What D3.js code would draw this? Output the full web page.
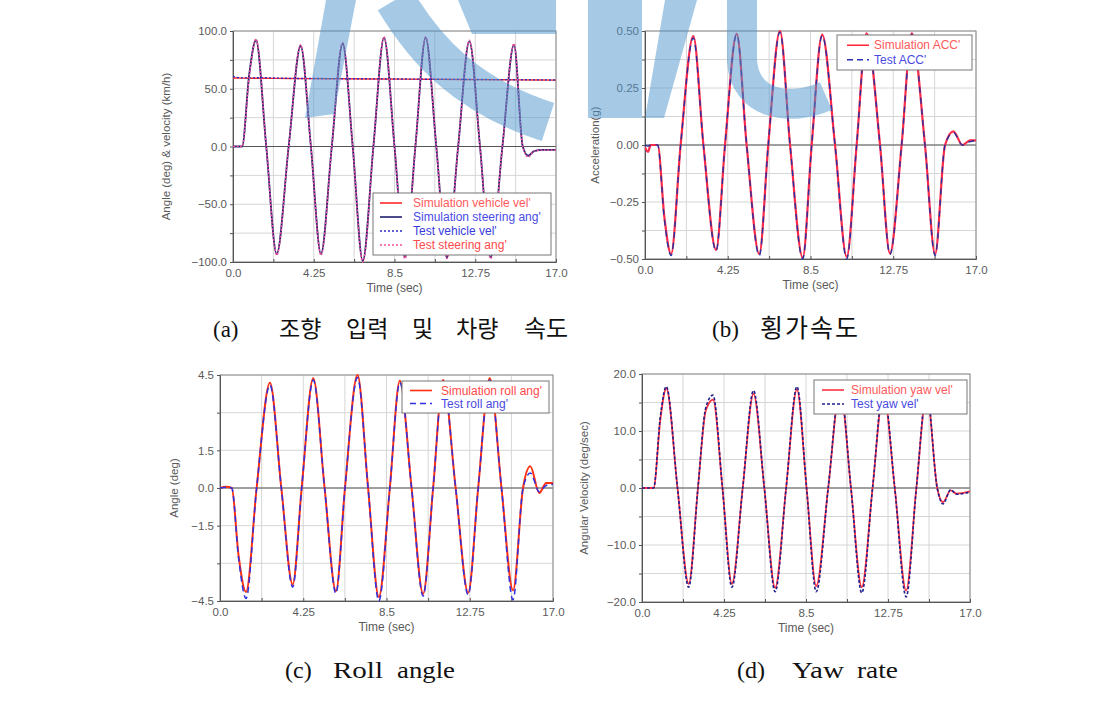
<!DOCTYPE html>
<html>
<head>
<meta charset="utf-8">
<title>Vehicle test vs simulation</title>
<script src="https://cdnjs.cloudflare.com/ajax/libs/d3/7.8.5/d3.min.js"></script>
<style>
  body { margin: 0; background: #fff; }
  svg text { font-family: "Liberation Sans", Arial, sans-serif; }
  .cap { font-family: "Liberation Serif", "Noto Sans CJK KR", serif; fill: #111; }
</style>
</head>
<body>
<div id="chart"></div>
<script>
// ---- data ----
var xTicks = [0, 4.25, 8.5, 12.75, 17];
var xTickLabels = ["0.0", "4.25", "8.5", "12.75", "17.0"];

// (a) steering angle & vehicle speed
var steerTime = [0, 0.48, 0.85, 1.21, 1.75, 2.3, 2.93, 3.56, 4.1, 4.63, 5.2, 5.77, 6.3, 6.83, 7.39, 7.95, 8.5, 9.05, 9.6, 10.14, 10.7, 11.26, 11.85, 12.44, 13.0, 13.56, 14.18, 14.79, 15.25, 15.54, 15.85, 16.3, 17];
var steerSim  = [0, 0, 62, 92, 0, -93, 0, 87, 0, -93, 0, 89, 0, -99, 0, 94, 0, -96, 0, 94, 0, -96, 0, 91, 0, -96, 0, 88, 0, -8, -4, -3, -3];
var steerTest = [0, 0, 60, 93, 0, -94, 0, 88, 0, -94, 0, 90, 0, -100, 0, 95, 0, -97, 0, 95, 0, -97, 0, 92, 0, -97, 0, 89, 0, -9, -4, -3, -3];
var velTime = [0, 0.5, 1.5, 3, 5, 7, 9, 11, 13, 15, 17];
var velSim  = [59.3, 59.2, 59.1, 58.9, 58.7, 58.5, 58.3, 58.1, 57.9, 57.7, 57.5];
var velTest = [60.5, 59.4, 59.5, 59.0, 58.8, 58.6, 58.4, 58.2, 58.0, 57.8, 57.6];
var yTicksA = [100, 50, 0, -50, -100];

// (b) lateral acceleration
var accTime = [0, 0.15, 0.3, 0.65, 1.0, 1.34, 1.83, 2.48, 3.0, 3.65, 4.11, 4.71, 5.22, 5.87, 6.33, 6.93, 7.45, 8.1, 8.56, 9.1, 9.76, 10.36, 10.87, 11.38, 12.07, 12.58, 13.18, 13.7, 14.38, 14.9, 15.41, 15.84, 16.3, 16.7, 17];
var accSim  = [-0.01, -0.03, 0, 0, -0.32, -0.478, 0, 0.478, 0, -0.46, 0, 0.488, 0, -0.478, 0, 0.5, 0, -0.493, 0, 0.484, 0, -0.49, 0, 0.49, 0, -0.475, 0, 0.49, 0, -0.478, 0, 0.06, 0.0, 0.02, 0.02];
var accTest = [0, -0.005, 0, 0, -0.33, -0.485, 0, 0.47, 0, -0.465, 0, 0.485, 0, -0.485, 0, 0.495, 0, -0.5, 0, 0.48, 0, -0.5, 0, 0.49, 0, -0.48, 0, 0.485, 0, -0.485, 0, 0.055, 0.0, 0.015, 0.02];
var yTicksB = [0.5, 0.25, 0, -0.25, -0.5];

// (c) roll angle
var rollTime = [0, 0.3, 0.6, 0.95, 1.33, 1.87, 2.55, 3.13, 3.71, 4.17, 4.76, 5.34, 5.92, 6.38, 7.02, 7.56, 8.11, 8.67, 9.18, 9.78, 10.37, 10.88, 11.39, 12.03, 12.67, 13.18, 13.77, 14.37, 14.96, 15.47, 15.84, 16.3, 16.65, 17];
var rollSim  = [0, 0.05, 0, -2.7, -4.14, 0, 4.19, 0, -3.84, 0, 4.37, 0, -4.1, 0, 4.5, 0, -4.34, 0, 4.27, 0, -4.21, 0, 4.3, 0, -4.17, 0, 4.37, 0, -4.08, 0, 0.87, -0.2, 0.2, 0.2];
var rollTest = [0, 0.03, 0, -2.8, -4.4, 0, 4.1, 0, -3.95, 0, 4.3, 0, -4.2, 0, 4.4, 0, -4.5, 0, 4.2, 0, -4.3, 0, 4.25, 0, -4.25, 0, 4.3, 0, -4.45, 0, 0.6, -0.15, 0.1, 0.15];
var yTicksC = [4.5, 1.5, 0, -1.5, -4.5];

// (d) yaw rate
var yawTime = [0, 0.6, 0.95, 1.26, 1.84, 2.42, 2.9, 3.3, 3.68, 4.17, 4.66, 5.22, 5.78, 6.34, 6.9, 7.47, 8.03, 8.53, 9.03, 9.65, 10.27, 10.83, 11.39, 11.95, 12.51, 13.1, 13.69, 14.22, 14.76, 15.3, 15.6, 16.0, 16.3, 17];
var yawSim  = [0, 0, 12, 17.5, 0, -16.8, 0, 13.5, 15.5, 0, -16.8, 0, 16.5, 0, -17.5, 0, 17.3, 0, -17.2, 0, 17.2, 0, -17.4, 0, 16.8, 0, -18, 0, 16.5, 0, -2.5, -0.4, -1.0, -0.6];
var yawTest = [0, 0, 12.5, 17.8, 0, -17.4, 0, 14, 16.3, 0, -17.4, 0, 17.1, 0, -18.2, 0, 17.8, 0, -18.2, 0, 17.6, 0, -18.4, 0, 17.2, 0, -19.1, 0, 16.8, 0, -2.8, -0.3, -1.1, -0.7];
var yTicksD = [20, 10, 0, -10, -20];

function zip(t, v) { return t.map(function(d, i) { return [d, v[i]]; }); }

var panels = [
  { box: [233, 556, 31, 262], y: [-100, 100], yStep: 25, yTicks: yTicksA, fmt: ".1f",
    ylabel: "Angle (deg) & velocity (km/h)", ylabelX: 170,
    series: [
      { d: zip(velTime, velSim), color: "#ff2a2a", dash: null, w: 1.4 },
      { d: zip(steerTime, steerSim), color: "#1e1e6e", dash: null, w: 1.8 },
      { d: zip(velTime, velTest), color: "#2a2ac8", dash: "2,2", w: 1.4 },
      { d: zip(steerTime, steerTest), color: "#f0509a", dash: "2,1.5", w: 1.5 }
    ],
    legend: { x: 373, y: 193, w: 178, h: 62, sx: 380, tx: 413, rows: [
      { label: "Simulation vehicle vel'", line: "#ff2a2a", text: "#ff5a5a", dash: null },
      { label: "Simulation steering ang'", line: "#1e1e6e", text: "#4a4ae6", dash: null },
      { label: "Test vehicle vel'", line: "#2a2ac8", text: "#3a3ae0", dash: "2,2" },
      { label: "Test steering ang'", line: "#f0509a", text: "#ff4a4a", dash: "2,2" }
    ] } },
  { box: [645, 976, 31, 259], y: [-0.5, 0.5], yStep: 0.125, yTicks: yTicksB, fmt: ".2f",
    ylabel: "Acceleration(g)", ylabelX: 599,
    series: [
      { d: zip(accTime, accSim), color: "#ff2a4a", dash: null, w: 2.2 },
      { d: zip(accTime, accTest), color: "#2a30a0", dash: "6,5", w: 1.4 }
    ],
    legend: { x: 837, y: 35, w: 135, h: 35, sx: 847, tx: 874, rows: [
      { label: "Simulation ACC'", line: "#ff2a3a", text: "#ff5a5a", dash: null },
      { label: "Test ACC'", line: "#2a30b0", text: "#4a4ae0", dash: "6,4" }
    ] } },
  { box: [220, 553, 375, 601], y: [-4.5, 4.5], yStep: 1.5, yTicks: yTicksC, fmt: ".1f",
    ylabel: "Angle (deg)", ylabelX: 178,
    series: [
      { d: zip(rollTime, rollSim), color: "#ff3010", dash: null, w: 2 },
      { d: zip(rollTime, rollTest), color: "#3030e0", dash: "6,4", w: 1.5 }
    ],
    legend: { x: 402, y: 381, w: 147, h: 32, sx: 410, tx: 441, rows: [
      { label: "Simulation roll ang'", line: "#ff3010", text: "#ff4a4a", dash: null },
      { label: "Test roll ang'", line: "#3030e0", text: "#4a4ae0", dash: "6,4" }
    ] } },
  { box: [642, 970, 374, 602], y: [-20, 20], yStep: 5, yTicks: yTicksD, fmt: ".1f",
    ylabel: "Angular Velocity (deg/sec)", ylabelX: 588,
    series: [
      { d: zip(yawTime, yawSim), color: "#ff3040", dash: null, w: 1.8 },
      { d: zip(yawTime, yawTest), color: "#20208c", dash: "3,2", w: 1.6 }
    ],
    legend: { x: 814, y: 380, w: 153, h: 34, sx: 822, tx: 851, rows: [
      { label: "Simulation yaw vel'", line: "#ff3040", text: "#ff5a5a", dash: null },
      { label: "Test yaw vel'", line: "#20208c", text: "#4a4ae0", dash: "3,2" }
    ] } }
];

var svg = d3.select("#chart").append("svg")
  .attr("width", 1105).attr("height", 722);

panels.forEach(function(p, idx) {
  var x0 = p.box[0], x1 = p.box[1], y0 = p.box[2], y1 = p.box[3];
  var x = d3.scaleLinear().domain([0, 17]).range([x0, x1]);
  var y = d3.scaleLinear().domain(p.y).range([y1, y0]);
  var g = svg.append("g");

  // grid
  var gx = d3.range(0, 17.001, 2.125);
  var gy = d3.range(p.y[0], p.y[1] + p.yStep / 2, p.yStep);
  g.selectAll(".gx").data(gx).enter().append("line")
    .attr("x1", function(d) { return x(d); }).attr("x2", function(d) { return x(d); })
    .attr("y1", y0).attr("y2", y1)
    .attr("stroke", "#d6d6d6").attr("stroke-width", 1);
  g.selectAll(".gy").data(gy).enter().append("line")
    .attr("y1", function(d) { return y(d); }).attr("y2", function(d) { return y(d); })
    .attr("x1", x0).attr("x2", x1)
    .attr("stroke", "#d6d6d6").attr("stroke-width", 1);
  // zero line
  g.append("line").attr("x1", x0).attr("x2", x1)
    .attr("y1", y(0)).attr("y2", y(0)).attr("stroke", "#555").attr("stroke-width", 1);

  // frame
  g.append("rect").attr("x", x0).attr("y", y0).attr("width", x1 - x0).attr("height", y1 - y0)
    .attr("fill", "none").attr("stroke", "#8a8a8a").attr("stroke-width", 1);

  // axes
  var xa = g.append("g").attr("transform", "translate(0," + y1 + ")")
    .call(d3.axisBottom(x).tickValues(gx).tickSize(-3)
      .tickFormat(function(d) { var i = xTicks.indexOf(d); return i >= 0 ? xTickLabels[i] : ""; }));
  var ya = g.append("g").attr("transform", "translate(" + x0 + ",0)")
    .call(d3.axisLeft(y).tickValues(gy).tickSize(3)
      .tickFormat(function(d) { return p.yTicks.some(function(t) { return Math.abs(t - d) < 1e-9; }) ? d3.format(p.fmt)(d) : ""; }));
  [xa, ya].forEach(function(a) {
    a.select(".domain").attr("stroke", "#555");
    a.selectAll(".tick line").attr("stroke", "#555");
    a.selectAll(".tick text").attr("fill", "#5a5a5a").attr("font-size", "11.5px")
      .attr("font-family", "Liberation Sans, Arial, sans-serif");
  });
  xa.selectAll(".tick text").attr("dy", "1.0em");

  g.append("text").attr("x", (x0 + x1) / 2).attr("y", y1 + 30)
    .attr("text-anchor", "middle").attr("font-size", "12px").attr("fill", "#5a5a5a")
    .text("Time (sec)");
  g.append("text").attr("transform", "translate(" + p.ylabelX + "," + ((y0 + y1) / 2) + ") rotate(-90)")
    .attr("text-anchor", "middle").attr("font-size", "11.5px").attr("fill", "#5a5a5a")
    .text(p.ylabel);

  // curves
  svg.append("clipPath").attr("id", "clip" + idx).append("rect")
    .attr("x", x0).attr("y", y0 - 1).attr("width", x1 - x0).attr("height", y1 - y0 + 2);
  var line = d3.line().x(function(d) { return x(d[0]); }).y(function(d) { return y(d[1]); })
    .curve(d3.curveMonotoneX);
  var cg = g.append("g").attr("clip-path", "url(#clip" + idx + ")");
  p.series.forEach(function(s) {
    cg.append("path").datum(s.d).attr("d", line)
      .attr("fill", "none").attr("stroke", s.color).attr("stroke-width", s.w)
      .attr("stroke-dasharray", s.dash);
  });

  // legend
  var L = p.legend;
  var lg = g.append("g");
  lg.append("rect").attr("x", L.x).attr("y", L.y).attr("width", L.w).attr("height", L.h)
    .attr("fill", "#fff").attr("stroke", "#777").attr("stroke-width", 1);
  var rowH = (L.h - 6) / L.rows.length;
  L.rows.forEach(function(r, i) {
    var ry = L.y + 3 + rowH * (i + 0.5);
    lg.append("line").attr("x1", L.sx).attr("x2", L.sx + 22).attr("y1", ry).attr("y2", ry)
      .attr("stroke", r.line).attr("stroke-width", 1.6).attr("stroke-dasharray", r.dash);
    lg.append("text").attr("x", L.tx).attr("y", ry + 4).attr("font-size", "12px")
      .attr("fill", r.text).text(r.label);
  });
});

// faint logo watermark lying over the top charts
var wm = svg.append("g").attr("fill", "#4f97cf").attr("stroke", "#4f97cf")
  .attr("opacity", 0.5);
wm.append("path").attr("stroke", "none").attr("d", "M305,118 L334,114 L356,0 L326,0 Z");
wm.append("path").attr("fill", "none").attr("stroke-width", 40)
  .attr("d", "M395,0 C425,50 465,95 548,122");
wm.append("path").attr("stroke", "none").attr("d", "M458,0 L556,0 L556,34 L472,34 Z");
wm.append("path").attr("stroke", "none").attr("d", "M588,0 L642,0 L642,118 L588,118 Z");
wm.append("path").attr("stroke", "none").attr("d", "M645,118 L664,118 L697,0 L665,0 Z");
wm.append("path").attr("fill", "none").attr("stroke-width", 30)
  .attr("d", "M742,0 L742,60 C744,105 790,112 826,96");

// captions
var caps = [
  { t: "(a)", x: 213, y: 337, fs: 23 },
  { t: "조향", x: 279, y: 337, fs: 23 }, { t: "입력", x: 346, y: 337, fs: 23 },
  { t: "및", x: 412, y: 337, fs: 23 }, { t: "차량", x: 456, y: 337, fs: 23 },
  { t: "속도", x: 524, y: 337, fs: 24 },
  { t: "(b)", x: 712, y: 337, fs: 23 }, { t: "횡가속도", x: 760, y: 337, fs: 25, ls: 2 },
  { t: "(c)", x: 285, y: 678, fs: 24 }, { t: "Roll", x: 333, y: 678, fs: 24, len: 50 },
  { t: "angle", x: 397, y: 678, fs: 24, len: 58 },
  { t: "(d)", x: 737, y: 678, fs: 24 }, { t: "Yaw", x: 792, y: 678, fs: 24, len: 52 },
  { t: "rate", x: 857, y: 678, fs: 24, len: 41 }
];
caps.forEach(function(c) {
  var t = svg.append("text").attr("class", "cap").attr("x", c.x).attr("y", c.y)
    .attr("font-size", c.fs + "px").style("letter-spacing", (c.ls || 0) + "px")
    .text(c.t);
  if (c.len) t.attr("textLength", c.len).attr("lengthAdjust", "spacingAndGlyphs");
});
</script>
</body>
</html>
